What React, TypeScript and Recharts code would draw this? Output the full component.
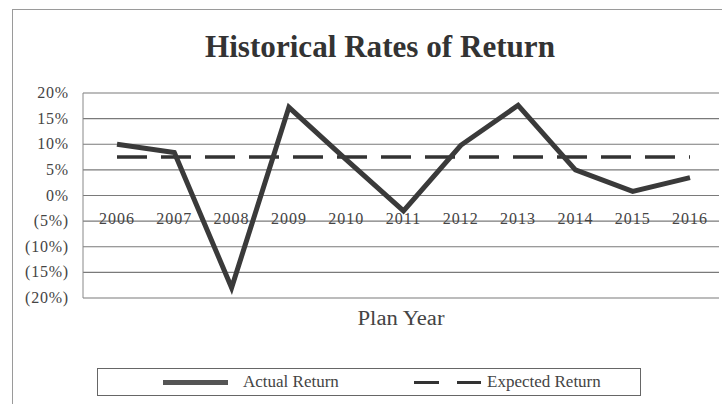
import { LineChart, Line, XAxis, YAxis, CartesianGrid, Legend } from 'recharts';

const years = ['2006', '2007', '2008', '2009', '2010', '2011', '2012', '2013', '2014', '2015', '2016'];
const actualReturn = [10, 8.4, -18, 17.2, 7, -3, 9.8, 17.6, 5, 0.8, 3.5];
const expectedReturn = [7.5, 7.5, 7.5, 7.5, 7.5, 7.5, 7.5, 7.5, 7.5, 7.5, 7.5];
const yTicks = [-20, -15, -10, -5, 0, 5, 10, 15, 20];

const data = years.map((year, i) => ({
  year,
  actual: actualReturn[i],
  expected: expectedReturn[i],
}));

const FONT = '"Liberation Serif", "Times New Roman", serif';
const INK = '#3a3a3a';

const pct = (v: number) => (v < 0 ? `(${Math.abs(v)}%)` : `${v}%`);

// year labels sit just under the 0% line, like Excel does with a crossing axis
const YearTick = (props: any) => {
  const { x, y, payload } = props;
  return (
    <text x={x} y={y - 76} textAnchor="middle" fontFamily={FONT} fontSize={16} fill="#444" letterSpacing={1}>
      {payload.value}
    </text>
  );
};

const PctTick = (props: any) => {
  const { x, y, payload } = props;
  return (
    <text x={x} y={y + 5} textAnchor="end" fontFamily={FONT} fontSize={16} fill="#444" letterSpacing={0.8}>
      {pct(payload.value)}
    </text>
  );
};

const LegendBox = () => (
  <div
    style={{
      width: 544,
      height: 28,
      border: '1px solid #666',
      boxSizing: 'border-box',
      position: 'relative',
      fontFamily: FONT,
      fontSize: 17,
      color: '#444',
    }}
  >
    <div style={{ position: 'absolute', left: 65, top: 11, width: 65, height: 5, background: '#555' }} />
    <span style={{ position: 'absolute', left: 145, top: 3 }}>Actual Return</span>
    <div style={{ position: 'absolute', left: 316, top: 12, width: 25, height: 3, background: '#333' }} />
    <div style={{ position: 'absolute', left: 359, top: 12, width: 24, height: 3, background: '#333' }} />
    <span style={{ position: 'absolute', left: 389, top: 3 }}>Expected Return</span>
  </div>
);

export default function App() {
  return (
    <div style={{ position: 'absolute', left: 0, top: 0, width: 722, height: 404, background: '#fff' }}>
      <LineChart width={722} height={404} data={data} margin={{ top: 93, right: 3, left: 0, bottom: 76 }}>
        <rect x={12.5} y={9.5} width={720} height={400} fill="none" stroke="#9a9a9a" />
        <text
          x={380}
          y={57}
          textAnchor="middle"
          fontFamily={FONT}
          fontWeight="bold"
          fontSize={31}
          fill="#333"
          textLength={350}
          lengthAdjust="spacingAndGlyphs"
        >
          Historical  Rates of Return
        </text>
        <text
          x={401}
          y={325}
          textAnchor="middle"
          fontFamily={FONT}
          fontSize={20}
          fill="#444"
          textLength={87}
          lengthAdjust="spacingAndGlyphs"
        >
          Plan Year
        </text>
        <CartesianGrid vertical={false} stroke="#7a7a7a" strokeWidth={1.2} />
        <XAxis
          dataKey="year"
          height={30}
          axisLine={false}
          tickLine={false}
          tickSize={0}
          tick={<YearTick />}
          padding={{ left: 34, right: 29 }}
          interval={0}
        />
        <YAxis
          width={83}
          domain={[-20, 20]}
          ticks={yTicks}
          interval={0}
          axisLine={{ stroke: '#888' }}
          tickLine={false}
          tickSize={0}
          tickMargin={14}
          tick={<PctTick />}
        />
        <Legend
          layout="horizontal"
          verticalAlign="middle"
          align="center"
          wrapperStyle={{ position: 'absolute', left: 97, top: 368, width: 544, height: 28 }}
          content={<LegendBox />}
        />
        <Line
          dataKey="expected"
          stroke="#333"
          strokeWidth={3.5}
          strokeDasharray="30 14"
          dot={false}
          activeDot={false}
          isAnimationActive={false}
        />
        <Line
          dataKey="actual"
          type="linear"
          stroke={INK}
          strokeWidth={5}
          dot={false}
          activeDot={false}
          isAnimationActive={false}
        />
      </LineChart>
    </div>
  );
}
